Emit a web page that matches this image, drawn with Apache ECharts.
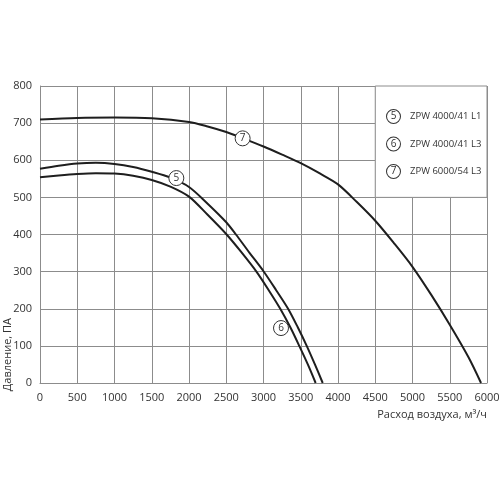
<!DOCTYPE html>
<html>
<head>
<meta charset="utf-8">
<script src="https://cdn.jsdelivr.net/npm/echarts@6/dist/echarts.min.js"></script>
<style>
  html, body { margin: 0; padding: 0; background: #fff; }
  #chart { width: 500px; height: 500px; }
</style>
</head>
<body>
<div id="chart"></div>
<script>
// curve 5 - ZPW 4000/41 L1
var curve5 = [
  [0, 577], [250, 585], [500, 591], [750, 593], [1000, 590], [1250, 582],
  [1500, 569], [1750, 553], [2000, 528], [2250, 483], [2500, 433],
  [2630, 400], [2815, 350], [3000, 301], [3170, 250], [3330, 200],
  [3460, 150], [3580, 100], [3690, 50], [3795, 0]
];
// curve 6 - ZPW 4000/41 L3
var curve6 = [
  [0, 554], [250, 559], [500, 563], [750, 565], [1000, 564], [1250, 558],
  [1500, 547], [1750, 529], [2000, 502], [2250, 453], [2505, 400],
  [2700, 353], [2905, 300], [3070, 250], [3225, 200], [3360, 150],
  [3480, 100], [3595, 50], [3700, 0]
];
// curve 7 - ZPW 6000/54 L3
var curve7 = [
  [0, 710], [500, 714], [1000, 715], [1500, 713], [2000, 703], [2250, 691],
  [2500, 676], [2750, 657], [3000, 637], [3250, 615], [3500, 592],
  [3750, 565], [4000, 535], [4250, 488], [4500, 437], [4750, 377],
  [5000, 313], [5250, 238], [5500, 157], [5750, 70], [5920, 0]
];
var curveIds = ['5', '6', '7'];
var curveNames = ['ZPW 4000/41 L1', 'ZPW 4000/41 L3', 'ZPW 6000/54 L3'];
// where the circled numbers sit on the curves
var tagPoints = [[1830, 552], [3235, 148], [2720, 659]];
var xTicks = { min: 0, max: 6000, interval: 500 };
var yTicks = { min: 0, max: 800, interval: 100 };

var chart = echarts.init(document.getElementById('chart'));
var gridColor = '#8c8c8c';
var curves = [curve5, curve6, curve7];

var series = curves.map(function (d, i) {
  return {
    name: curveNames[i],
    type: 'line',
    data: d,
    smooth: 0.3,
    showSymbol: false,
    z: 3,
    lineStyle: { color: '#1e1e1e', width: 2 },
    itemStyle: { color: '#1e1e1e' },
    markPoint: {
      symbol: 'circle',
      symbolSize: 15,
      itemStyle: { color: '#fff', borderColor: '#333', borderWidth: 1 },
      label: { show: true, color: '#333', fontSize: 10, fontFamily: 'Open Sans', formatter: curveIds[i] },
      data: [{ coord: tagPoints[i] }]
    }
  };
});
// white box behind the legend, covers the grid lines
series[2].markArea = {
  silent: true,
  itemStyle: { color: '#fff', borderColor: gridColor, borderWidth: 1 },
  data: [[{ coord: [4500, 800] }, { coord: [6000, 500] }]]
};

var option = {
  animation: false,
  textStyle: { fontFamily: 'Open Sans' },
  grid: { left: 40, right: 13, top: 86, bottom: 117, containLabel: false, outerBoundsMode: 'none' },
  legend: {
    orient: 'vertical',
    left: 377,
    top: 104,
    itemGap: 12.5,
    itemWidth: 0,
    itemHeight: 0,
    selectedMode: false,
    icon: 'none',
    data: curveNames,
    formatter: function (name) {
      return '{c|' + curveIds[curveNames.indexOf(name)] + '}{s|}' + name;
    },
    textStyle: {
      color: '#333', fontSize: 9.5, fontFamily: 'Open Sans',
      rich: {
        c: {
          width: 13, height: 13, align: 'center', lineHeight: 13,
          borderColor: '#333', borderWidth: 1, borderRadius: 8,
          fontSize: 10, color: '#333', backgroundColor: '#fff'
        },
        s: { width: 10 }
      }
    }
  },
  xAxis: {
    type: 'value',
    min: xTicks.min, max: xTicks.max, interval: xTicks.interval,
    name: 'Расход воздуха, м³/ч',
    nameLocation: 'end',
    nameGap: 0,
    nameTextStyle: { color: '#333', fontSize: 11, align: 'right', verticalAlign: 'top', padding: [26, 0, 0, 0] },
    axisLine: { lineStyle: { color: gridColor, width: 1 } },
    axisTick: { show: false },
    axisLabel: { color: '#333', fontSize: 11, margin: 9, formatter: function (v) { return String(v); } },
    splitLine: { show: true, lineStyle: { color: gridColor, width: 1 } }
  },
  yAxis: {
    type: 'value',
    min: yTicks.min, max: yTicks.max, interval: yTicks.interval,
    axisLine: { show: true, lineStyle: { color: gridColor, width: 1 } },
    axisTick: { show: false },
    axisLabel: { color: '#333', fontSize: 11, margin: 8, formatter: function (v) { return String(v); } },
    splitLine: { show: true, lineStyle: { color: gridColor, width: 1 } }
  },
  graphic: [{
    type: 'text',
    left: 2,
    top: 318,
    rotation: Math.PI / 2,
    style: { text: 'Давление, ПА', fill: '#333', fontSize: 11, fontFamily: 'Open Sans' }
  }],
  series: series
};
chart.setOption(option);
</script>
</body>
</html>
